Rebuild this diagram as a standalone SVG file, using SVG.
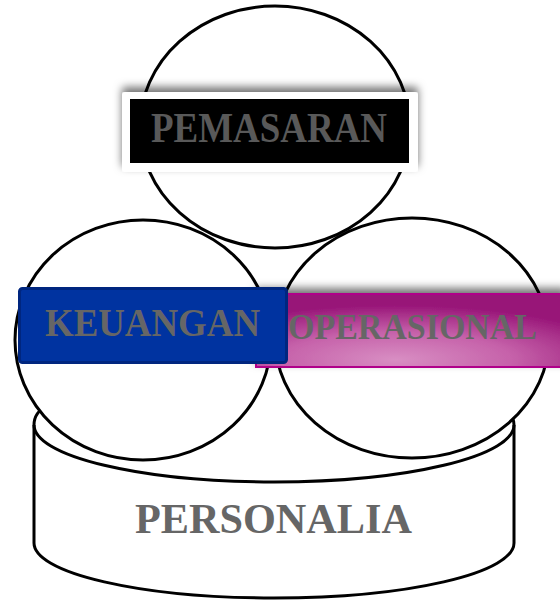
<svg xmlns="http://www.w3.org/2000/svg" width="560" height="604" viewBox="0 0 560 604">
<style>
.ring{fill:none;stroke:#000;stroke-width:3}
.bg{fill:#fff;stroke:none}
.lbl{font-family:"Liberation Serif","Times New Roman",serif;font-weight:bold;fill:#666}
</style>
<defs>
<filter id="sh" x="-10%" y="-40%" width="120%" height="180%">
<feDropShadow dx="0" dy="-5" stdDeviation="4" flood-color="#000" flood-opacity="0.55"/>
</filter>
<radialGradient id="mag" cx="0.45" cy="0.9" r="0.75">
<stop offset="0" stop-color="#D88EC3"/>
<stop offset="0.5" stop-color="#C662AA"/>
<stop offset="1" stop-color="#981578"/>
</radialGradient>
</defs>
<g id="personalia">
<path d="M34,425 L34,543 A240,55 0 0 0 514,543 L514,425" fill="#fff" stroke="#000" stroke-width="3"/>
<path d="M34,425 A240,57 0 0 0 514,425" fill="none" stroke="#000" stroke-width="3"/>
<path d="M34,425 Q34,412 48,405" fill="none" stroke="#000" stroke-width="3"/>
<path d="M514,425 Q514,414 500,406" fill="none" stroke="#000" stroke-width="3"/>
<text class="lbl" x="135" y="533" font-size="42" textLength="277" lengthAdjust="spacingAndGlyphs">PERSONALIA</text>
</g>
<g id="circles">
<ellipse class="bg" cx="275" cy="127" rx="135" ry="121"/>
<ellipse class="bg" cx="143" cy="340" rx="128" ry="120"/>
<ellipse class="bg" cx="412" cy="338" rx="137" ry="120"/>
<ellipse class="ring" cx="275" cy="127" rx="135" ry="121"/>
<ellipse class="ring" cx="143" cy="340" rx="128" ry="120"/>
<ellipse class="ring" cx="412" cy="338" rx="137" ry="120"/>
</g>
<g id="pemasaran">
<rect x="122" y="92" width="296" height="80" rx="3" fill="#fff" filter="url(#sh)"/>
<rect x="130" y="99" width="279" height="64" fill="#000"/>
<text class="lbl" x="151" y="142" font-size="42" textLength="236" lengthAdjust="spacingAndGlyphs" style="fill:#595959">PEMASARAN</text>
</g>
<g id="operasional">
<rect x="256" y="294" width="310" height="73" fill="url(#mag)" stroke="#B0008A" stroke-width="2" filter="url(#sh)"/>
<text class="lbl" x="288" y="339" font-size="36" textLength="249" lengthAdjust="spacingAndGlyphs">OPERASIONAL</text>
</g>
<g id="keuangan">
<rect x="19.5" y="288.5" width="267" height="74" rx="3" fill="#0033A0" stroke="#00267F" stroke-width="3"/>
<text class="lbl" x="45" y="336" font-size="39" textLength="215" lengthAdjust="spacingAndGlyphs">KEUANGAN</text>
</g>
</svg>
